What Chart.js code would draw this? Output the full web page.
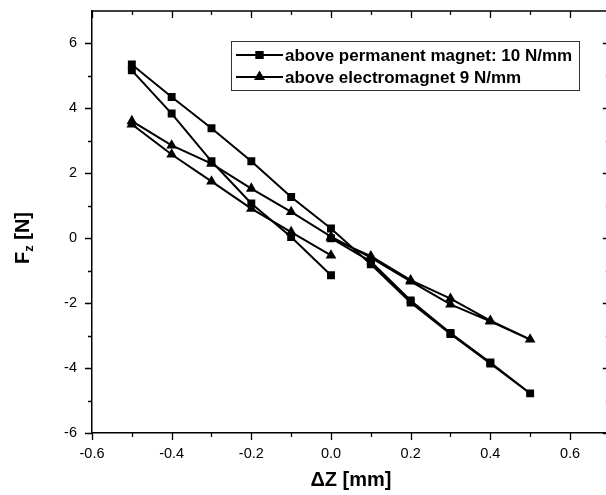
<!DOCTYPE html>
<html lang="en">
<head>
  <meta charset="UTF-8" />
  <title>Fz vs dZ</title>
  <script src="https://cdn.jsdelivr.net/npm/chart.js"></script>
  <style>
    html, body { margin: 0; padding: 0; background: #fff; overflow: hidden; }
    #wrap { position: relative; width: 606px; height: 495px; overflow: hidden; }
    #chart { display: block; }
  </style>
</head>
<body>
  <div id="wrap"><canvas id="chart" width="616" height="495"></canvas></div>

  <script>
    // measurement order: 0 -> +0.5 -> -0.5 -> 0
    const dzSteps = [0.0, 0.1, 0.2, 0.3, 0.4, 0.5, 0.4, 0.3, 0.2, 0.1, 0.0, -0.1, -0.2, -0.3, -0.4, -0.5, -0.5, -0.4, -0.3, -0.2, -0.1, 0.0];
    const permanentFz = [0.0, -0.72, -1.92, -2.92, -3.83, -4.78, -3.86, -2.95, -1.98, -0.8, 0.3, 1.27, 2.37, 3.39, 4.35, 5.35, 5.17, 3.84, 2.37, 1.07, 0.04, -1.14];
    const electroFz = [0.0, -0.55, -1.29, -1.86, -2.54, -3.12, -2.56, -2.04, -1.33, -0.6, 0.05, 0.81, 1.53, 2.3, 2.86, 3.61, 3.51, 2.58, 1.75, 0.91, 0.19, -0.53];

    const seriesLabels = ['above permanent magnet: 10 N/mm', 'above electromagnet 9 N/mm'];

    const xTicks = [-0.6, -0.4, -0.2, 0.0, 0.2, 0.4, 0.6];
    const xMinor = [-0.5, -0.3, -0.1, 0.1, 0.3, 0.5];
    const yTicks = [-6, -4, -2, 0, 2, 4, 6];
    const yMinor = [-5, -3, -1, 1, 3, 5];

    const toPoints = (xs, ys) => xs.map((x, i) => ({ x: x, y: ys[i] }));

    // frame, tick marks, axis titles and legend box (Origin style)
    const framePlugin = {
      id: 'frame',
      afterDraw(chart) {
        const ctx = chart.ctx;
        const a = chart.chartArea;
        const sx = chart.scales.x, sy = chart.scales.y;
        ctx.save();
        ctx.strokeStyle = '#000';
        ctx.lineWidth = 1.5;
        ctx.beginPath();
        ctx.moveTo(a.left, a.top); ctx.lineTo(a.right, a.top);
        ctx.moveTo(a.right, a.top); ctx.lineTo(a.right, a.bottom);
        ctx.stroke();

        ctx.lineWidth = 1.3;
        ctx.beginPath();
        const xt = (v, len) => {
          const px = Math.round(sx.getPixelForValue(v)) + 0.5;
          ctx.moveTo(px, a.bottom); ctx.lineTo(px, a.bottom + len);
          ctx.moveTo(px, a.top); ctx.lineTo(px, a.top + len);
        };
        const yt = (v, len) => {
          const py = Math.round(sy.getPixelForValue(v)) + 0.5;
          ctx.moveTo(a.left, py); ctx.lineTo(a.left - len, py);
          ctx.moveTo(a.right, py); ctx.lineTo(a.right - len, py);
        };
        xTicks.forEach(v => xt(v, 7));
        xMinor.forEach(v => xt(v, 4));
        yTicks.forEach(v => yt(v, 7));
        yMinor.forEach(v => yt(v, 4));
        ctx.stroke();

        // axis titles
        ctx.fillStyle = '#000';
        ctx.textAlign = 'center';
        ctx.textBaseline = 'middle';
        ctx.font = 'bold 20px Arial';
        ctx.fillText('\u0394Z [mm]', (a.left + a.right) / 2, 480);

        ctx.translate(22, 238);
        ctx.rotate(-Math.PI / 2);
        ctx.textAlign = 'left';
        ctx.textBaseline = 'alphabetic';
        ctx.font = 'bold 20px Arial';
        const wF = ctx.measureText('F').width;
        const wRest = ctx.measureText(' [N]').width;
        ctx.font = 'bold 13px Arial';
        const wz = ctx.measureText('z').width;
        let x0 = -(wF + wz + wRest) / 2;
        ctx.font = 'bold 20px Arial';
        ctx.fillText('F', x0, 7);
        ctx.font = 'bold 13px Arial';
        ctx.fillText('z', x0 + wF, 11);
        ctx.font = 'bold 20px Arial';
        ctx.fillText(' [N]', x0 + wF + wz, 7);
        ctx.restore();

        // legend
        ctx.save();
        ctx.strokeStyle = '#333';
        ctx.lineWidth = 1;
        ctx.strokeRect(231.5, 41.5, 348, 49);
        const rows = [55, 77];
        chart.data.datasets.forEach((ds, i) => {
          const y = rows[i];
          ctx.strokeStyle = '#000';
          ctx.lineWidth = 2;
          ctx.beginPath();
          ctx.moveTo(236, y); ctx.lineTo(283, y);
          ctx.stroke();
          ctx.fillStyle = '#000';
          Chart.helpers.drawPoint(ctx, { pointStyle: ds.pointStyle, radius: ds.pointRadius, borderWidth: 0 }, 259.5, y);
          ctx.fill();
          ctx.font = 'bold 17px Arial';
          ctx.textAlign = 'left';
          ctx.textBaseline = 'middle';
          ctx.fillText(ds.label, 285, y + 1);
        });
        ctx.restore();
      }
    };

    const noPad = s => { s.paddingTop = 0; s.paddingBottom = 0; s.paddingLeft = 0; s.paddingRight = 0; };

    const ctx = document.getElementById('chart').getContext('2d');
    new Chart(ctx, {
      type: 'scatter',
      data: {
        datasets: [
          {
            label: seriesLabels[0],
            data: toPoints(dzSteps, permanentFz),
            showLine: true,
            borderColor: '#000',
            backgroundColor: '#000',
            borderWidth: 2,
            pointStyle: 'rect',
            pointRadius: 5.6,
            pointBorderWidth: 0,
            pointHoverRadius: 5.6
          },
          {
            label: seriesLabels[1],
            data: toPoints(dzSteps, electroFz),
            showLine: true,
            borderColor: '#000',
            backgroundColor: '#000',
            borderWidth: 2,
            pointStyle: 'triangle',
            pointRadius: 6.2,
            pointBorderWidth: 0,
            pointHoverRadius: 6.2
          }
        ]
      },
      options: {
        responsive: false,
        animation: false,
        layout: { padding: { left: 0, right: 6, top: 11, bottom: 0 } },
        plugins: { legend: { display: false }, tooltip: { enabled: false } },
        scales: {
          x: {
            type: 'linear',
            min: -0.6,
            max: 0.7,
            afterBuildTicks: s => { s.ticks = xTicks.map(v => ({ value: v })); },
            afterFit: s => { s.height = 62; noPad(s); },
            grid: { display: false, drawTicks: false },
            border: { display: true, color: '#000', width: 1.5 },
            ticks: {
              color: '#000',
              font: { family: 'Arial', size: 14.5 },
              padding: 12,
              maxRotation: 0,
              callback: v => v.toFixed(1)
            }
          },
          y: {
            type: 'linear',
            min: -6,
            max: 7,
            afterBuildTicks: s => { s.ticks = yTicks.map(v => ({ value: v })); },
            afterFit: s => { s.width = 92; noPad(s); },
            grid: { display: false, drawTicks: false },
            border: { display: true, color: '#000', width: 1.5 },
            ticks: {
              color: '#000',
              font: { family: 'Arial', size: 14.5 },
              padding: 15,
              callback: v => String(v)
            }
          }
        }
      },
      plugins: [framePlugin]
    });
  </script>
</body>
</html>
